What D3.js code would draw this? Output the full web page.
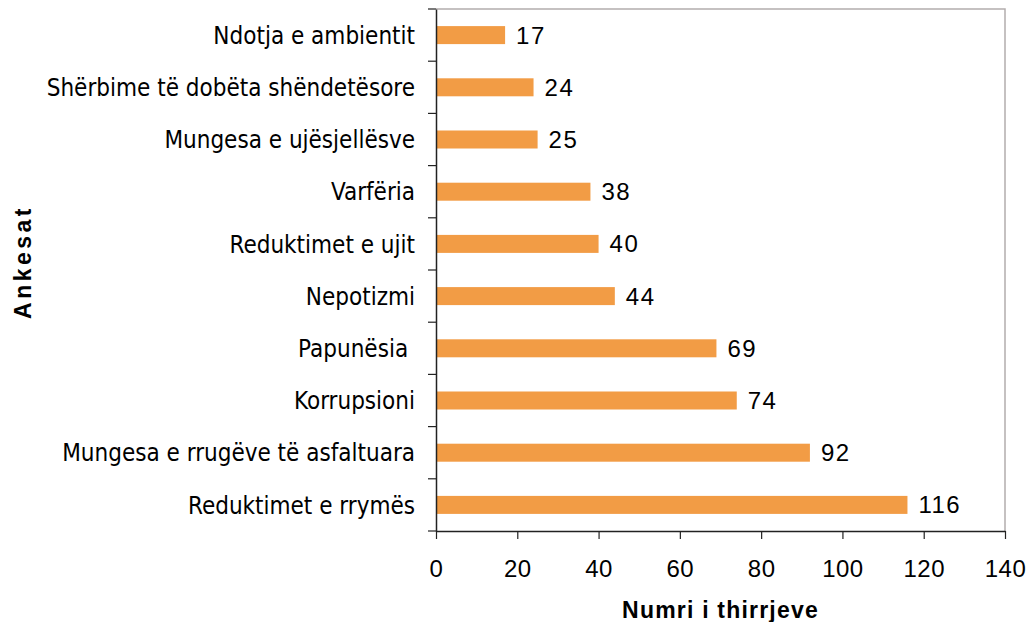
<!DOCTYPE html>
<html>
<head>
<meta charset="utf-8">
<script src="https://cdn.jsdelivr.net/npm/d3@7"></script>
<style>
  html, body { margin: 0; padding: 0; background: #fff; }
  svg { display: block; }
</style>
</head>
<body>
<svg id="chart" width="1031" height="622"></svg>
<script>
const categories = [
  "Ndotja e ambientit",
  "Shërbime të dobëta shëndetësore",
  "Mungesa e ujësjellësve",
  "Varfëria",
  "Reduktimet e ujit",
  "Nepotizmi",
  "Papunësia ",
  "Korrupsioni",
  "Mungesa e rrugëve të asfaltuara",
  "Reduktimet e rrymës"
];
const values = [17, 24, 25, 38, 40, 44, 69, 74, 92, 116];
const xTicks = [0, 20, 40, 60, 80, 100, 120, 140];
const xTitle = "Numri i thirrjeve";
const yTitle = "Ankesat";

const svg = d3.select("#chart");
const mLeft = 436, mRight = 1005, mTop = 9, mBottom = 531;

const x = d3.scaleLinear().domain([0, 140]).range([mLeft, mRight]);
const y = d3.scaleBand().domain(categories).range([mTop, mBottom]).paddingInner(0).paddingOuter(0);
const barH = 18;
const barColor = "#f29c45";
const numFont = "'Liberation Sans', Arial, sans-serif";

// plot border (top & right)
svg.append("path")
  .attr("d", `M${mLeft},${mTop}H${mRight}V${mBottom}`)
  .attr("fill", "none").attr("stroke", "#b3adad").attr("stroke-width", 1.5);

// bars
svg.append("g").selectAll("rect").data(values).join("rect")
  .attr("x", x(0) + 1)
  .attr("y", (d, i) => y(categories[i]) + y.bandwidth() / 2 - barH / 2)
  .attr("width", d => x(d) - x(0) - 1)
  .attr("height", barH)
  .attr("fill", barColor);

// value labels
svg.append("g").selectAll("text").data(values).join("text")
  .attr("x", d => x(d) + 11)
  .attr("y", (d, i) => y(categories[i]) + y.bandwidth() / 2 + 8.5)
  .style("font-family", numFont)
  .style("font-size", "24px")
  .style("letter-spacing", "1.5px")
  .attr("fill", "#000")
  .text(d => d);

// y axis
const yAxis = svg.append("g").attr("transform", `translate(${mLeft},0)`)
  .call(d3.axisLeft(y).tickSize(0).tickPadding(21));
yAxis.select(".domain").attr("stroke", "#222").attr("stroke-width", 1.5);
yAxis.selectAll(".tick text")
  .style("font-family", "'DejaVu Sans Condensed', 'DejaVu Sans', sans-serif")
  .style("font-stretch", "condensed")
  .style("white-space", "pre")
  .style("font-size", "24px")
  .attr("fill", "#000")
  .attr("dy", "0.36em");
// boundary ticks
const bounds = categories.map(c => y(c)).concat([mBottom]);
yAxis.append("g").selectAll("line").data(bounds).join("line")
  .attr("x1", -8).attr("x2", 0)
  .attr("y1", d => d).attr("y2", d => d)
  .attr("stroke", "#222").attr("stroke-width", 1.2);

// x axis
const xAxis = svg.append("g").attr("transform", `translate(0,${mBottom})`)
  .call(d3.axisBottom(x).tickValues(xTicks).tickSize(8).tickSizeOuter(0));
xAxis.select(".domain").attr("stroke", "#222").attr("stroke-width", 1.5);
xAxis.selectAll(".tick line").attr("stroke", "#222").attr("stroke-width", 1.2);
xAxis.selectAll(".tick text")
  .style("font-family", numFont)
  .style("font-size", "24px")
  .style("letter-spacing", "0.5px")
  .attr("fill", "#000")
  .attr("y", 46).attr("dy", 0);

// axis titles
svg.append("text")
  .attr("x", (mLeft + mRight) / 2).attr("y", 618)
  .attr("text-anchor", "middle")
  .style("font-family", numFont)
  .style("font-weight", "bold")
  .style("font-size", "23px")
  .style("letter-spacing", "1.2px")
  .text(xTitle);

svg.append("text")
  .attr("transform", `translate(31,262) rotate(-90)`)
  .attr("text-anchor", "middle")
  .style("font-family", numFont)
  .style("font-weight", "bold")
  .style("font-size", "23px")
  .style("letter-spacing", "3.5px")
  .text(yTitle);
</script>
</body>
</html>
